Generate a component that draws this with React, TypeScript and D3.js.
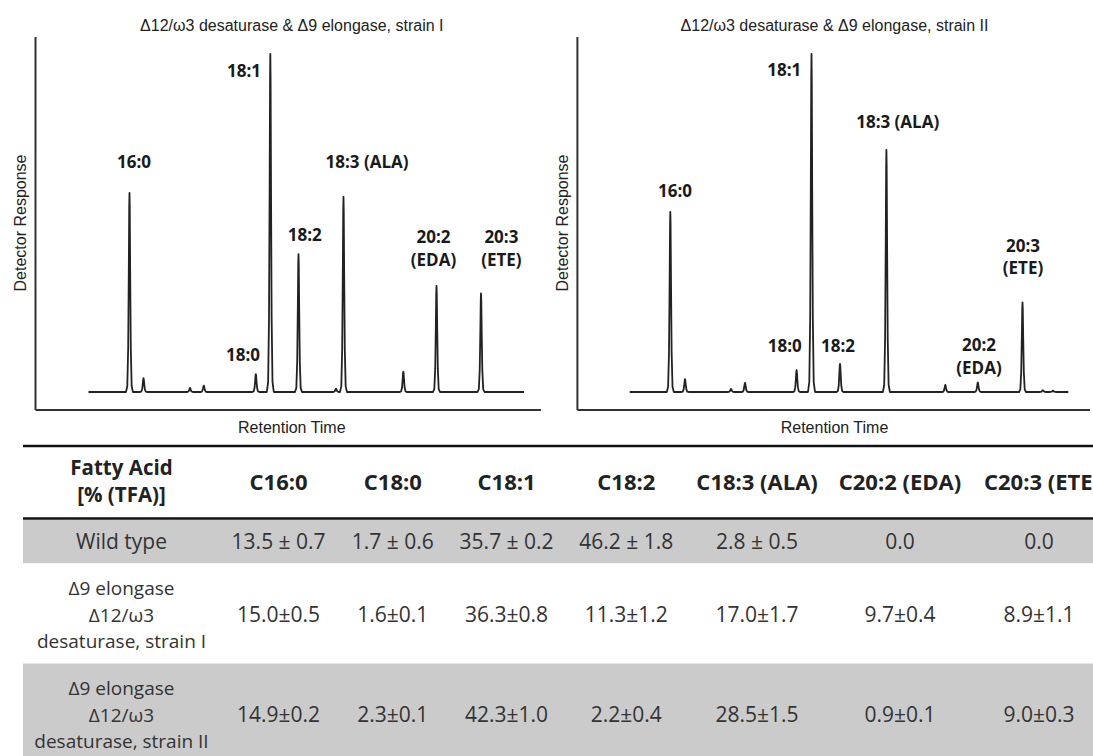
import React from "react";
import * as d3 from "d3";

// ---------- DATA ----------
const panelTitles = [
  "Δ12/ω3 desaturase & Δ9 elongase, strain I",
  "Δ12/ω3 desaturase & Δ9 elongase, strain II",
];
const xAxisLabel = "Retention Time";
const yAxisLabel = "Detector Response";

// Peak retention times (relative units) and heights (% of largest peak)
const strainIRetention = [9.41, 12.63, 23.31, 26.47, 38.42, 41.75, 48.22, 56.83, 58.55, 72.29, 79.91, 90.13];
const strainIHeight = [58.9, 4.1, 1.2, 1.9, 5.3, 100, 40.8, 1.0, 57.8, 6.0, 31.4, 29.2];
const strainIIRetention = [9.26, 12.61, 23.1, 26.29, 38.05, 41.45, 47.95, 58.53, 71.96, 79.37, 89.56, 94.2, 96.5];
const strainIIHeight = [53.3, 3.8, 0.9, 2.7, 6.5, 100, 8.3, 71.6, 2.1, 2.8, 26.5, 0.5, 0.4];

const peakNames = ["16:0", "18:0", "18:1", "18:2", "18:3 (ALA)", "20:2", "(EDA)", "20:3", "(ETE)"];

const tableHeaderLabel = ["Fatty Acid", "[% (TFA)]"];
const tableColumns = ["C16:0", "C18:0", "C18:1", "C18:2", "C18:3 (ALA)", "C20:2 (EDA)", "C20:3 (ETE)"];
const rowLabels = [
  ["Wild type"],
  ["Δ9 elongase", "Δ12/ω3", "desaturase, strain I"],
  ["Δ9 elongase", "Δ12/ω3", "desaturase, strain II"],
];
const wildTypeMean = [13.5, 1.7, 35.7, 46.2, 2.8, 0.0, 0.0];
const wildTypeSd = [0.7, 0.6, 0.2, 1.8, 0.5, null, null];
const strainIMean = [15.0, 1.6, 36.3, 11.3, 17.0, 9.7, 8.9];
const strainISd = [0.5, 0.1, 0.8, 1.2, 1.7, 0.4, 1.1];
const strainIIMean = [14.9, 2.3, 42.3, 2.2, 28.5, 0.9, 9.0];
const strainIISd = [0.2, 0.1, 1.0, 0.4, 1.5, 0.1, 0.3];

// ---------- LAYOUT ----------
const W = 1093;
const H = 756;
const panels = [
  {
    title: panelTitles[0], rt: strainIRetention, h: strainIHeight,
    axisX: 35.5, axisEndX: 541, traceX0: 88.5, traceX1: 524, cx: 291.8, yLabelX: 25.5,
    labels: [
      { t: 0, x: 134, y: 168 }, { t: 2, x: 244, y: 77 }, { t: 4, x: 367, y: 168 },
      { t: 3, x: 304.7, y: 241 }, { t: 5, x: 433.5, y: 243 }, { t: 6, x: 433.5, y: 266 },
      { t: 7, x: 501.4, y: 243 }, { t: 8, x: 501.4, y: 266 }, { t: 1, x: 243, y: 360.7 },
    ],
  },
  {
    title: panelTitles[1], rt: strainIIRetention, h: strainIIHeight,
    axisX: 577.4, axisEndX: 1090, traceX0: 629.7, traceX1: 1068.3, cx: 834.5, yLabelX: 568,
    labels: [
      { t: 0, x: 675, y: 197 }, { t: 2, x: 784.3, y: 76 }, { t: 4, x: 897.7, y: 127.7 },
      { t: 1, x: 784.7, y: 352 }, { t: 3, x: 838, y: 351.7 }, { t: 5, x: 979, y: 351 },
      { t: 6, x: 979, y: 374 }, { t: 7, x: 1023, y: 251.7 }, { t: 8, x: 1023, y: 274.3 },
    ],
  },
];
const axisTop = 37;
const axisBottom = 410;
const baselineY = 392;
const peakTopY = 54;

// peak profile: [offset in rt units, fraction of height]
const peakProfile: [number, number][] = [
  [-0.8, 0], [-0.5, 0.03], [-0.3, 0.22], [-0.16, 0.6], [-0.06, 0.93], [0, 1],
  [0.06, 0.93], [0.16, 0.6], [0.3, 0.22], [0.5, 0.03], [0.8, 0],
];

const colCenters = [278.6, 392.8, 506.6, 626.3, 757.1, 900, 1039];
const headerCenters = [278.6, 392.8, 506.6, 626.3, 757.1, 900, 1042];
const labelColX = 121.5;

const fmt = d3.format(".1f");

function Chromatogram({ p }: { p: (typeof panels)[number] }) {
  const x = d3.scaleLinear().domain([0, 100]).range([p.traceX0, p.traceX1]);
  const y = d3.scaleLinear().domain([0, 100]).range([baselineY, peakTopY]);
  const pts: [number, number][] = [[0, 0]];
  const order = d3.range(p.rt.length).sort((a, b) => p.rt[a] - p.rt[b]);
  order.forEach((i) => {
    peakProfile.forEach(([dx, f]) => pts.push([p.rt[i] + dx, p.h[i] * f]));
  });
  pts.push([100, 0]);
  const line = d3
    .line<[number, number]>()
    .x((d) => x(d[0]))
    .y((d) => y(d[1]));
  return (
    <g>
      <text x={p.cx} y={30.5} textAnchor="middle" fontFamily="Liberation Sans, Arial" fontSize={16} fill="#222">
        {p.title}
      </text>
      <line x1={p.axisX} y1={axisTop} x2={p.axisX} y2={axisBottom} stroke="#333" strokeWidth={2} />
      <line x1={p.axisX} y1={axisBottom} x2={p.axisEndX} y2={axisBottom} stroke="#333" strokeWidth={2} />
      <path d={line(pts) || ""} fill="none" stroke="#222" strokeWidth={1.8} strokeLinejoin="round" />
      {p.labels.map((l, i) => (
        <text key={i} x={l.x} y={l.y} textAnchor="middle" fontFamily="Open Sans" fontWeight={700} fontSize={17} fill="#1a1a1a">
          {peakNames[l.t]}
        </text>
      ))}
      <text x={p.cx} y={433} textAnchor="middle" fontFamily="Liberation Sans, Arial" fontSize={16} fill="#222">
        {xAxisLabel}
      </text>
      <text
        transform={`translate(${p.yLabelX},223) rotate(-90)`}
        textAnchor="middle"
        fontFamily="Liberation Sans, Arial"
        fontSize={16}
        fill="#222"
      >
        {yAxisLabel}
      </text>
    </g>
  );
}

function Table() {
  const rows = [
    { mean: wildTypeMean, sd: wildTypeSd, sep: " ± ", top: 520, bottom: 563.5, fill: "#cbcbcb", base: 549, labelBase: [549], labelSize: 21 },
    { mean: strainIMean, sd: strainISd, sep: "±", top: 563.5, bottom: 663.5, fill: "#ffffff", base: 621.7, labelBase: [595, 621.7, 648.3], labelSize: 19 },
    { mean: strainIIMean, sd: strainIISd, sep: "±", top: 663.5, bottom: H, fill: "#cbcbcb", base: 721.7, labelBase: [695, 721.7, 748.3], labelSize: 19 },
  ];
  return (
    <g fontFamily="Open Sans">
      {rows.map((r, i) => (
        <rect key={"bg" + i} x={23} y={r.top} width={W - 23} height={r.bottom - r.top} fill={r.fill} />
      ))}
      <line x1={23} x2={W} y1={446} y2={446} stroke="#111" strokeWidth={2.6} />
      <line x1={23} x2={W} y1={518.5} y2={518.5} stroke="#111" strokeWidth={2.6} />
      <text x={labelColX} y={475} textAnchor="middle" fontWeight={700} fontSize={20.5} fill="#222">
        {tableHeaderLabel[0]}
      </text>
      <text x={labelColX} y={502} textAnchor="middle" fontWeight={700} fontSize={20.5} fill="#222">
        {tableHeaderLabel[1]}
      </text>
      {tableColumns.map((c, j) => (
        <text key={c} x={headerCenters[j]} y={490} textAnchor="middle" fontWeight={700} fontSize={22} fill="#222">
          {c}
        </text>
      ))}
      {rows.map((r, i) => (
        <g key={"row" + i}>
          {rowLabels[i].map((s, k) => (
            <text key={k} x={labelColX} y={r.labelBase[k]} textAnchor="middle" fontSize={r.labelSize} fill="#333">
              {s}
            </text>
          ))}
          {r.mean.map((m, j) => (
            <text key={j} x={colCenters[j]} y={r.base} textAnchor="middle" fontSize={21} fill="#333">
              {r.sd[j] == null ? fmt(m) : `${fmt(m)}${r.sep}${fmt(r.sd[j] as number)}`}
            </text>
          ))}
        </g>
      ))}
    </g>
  );
}

export default function App() {
  return (
    <svg
      width={W}
      height={H}
      viewBox={`0 0 ${W} ${H}`}
      style={{ position: "absolute", left: 0, top: 0, display: "block", background: "#fff" }}
    >
      <rect width={W} height={H} fill="#fff" />
      {panels.map((p, i) => (
        <Chromatogram key={i} p={p} />
      ))}
      <Table />
    </svg>
  );
}
